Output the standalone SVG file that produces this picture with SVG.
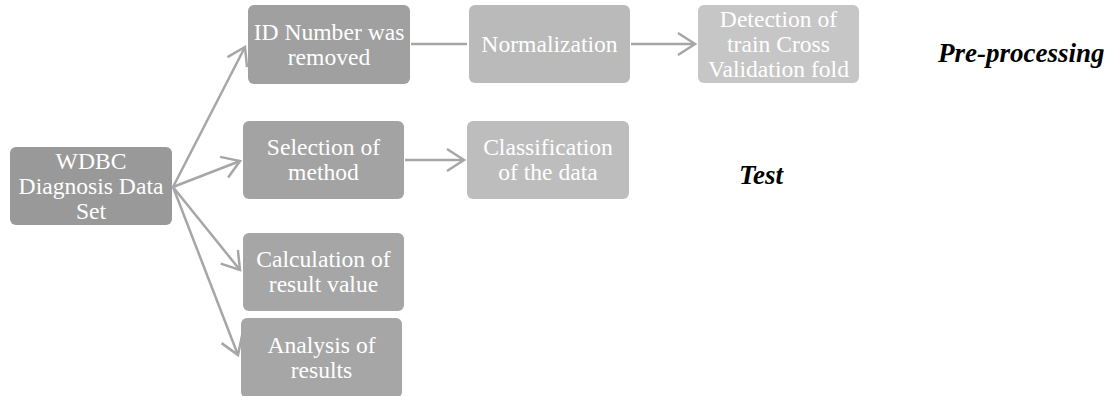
<svg xmlns="http://www.w3.org/2000/svg" width="1112" height="396" viewBox="0 0 1112 396">
<style>
.box{stroke:none}
.t{font-family:"Liberation Serif","Times New Roman",serif;font-size:23.6px;fill:#ffffff;text-anchor:middle}
.lbl{font-family:"Liberation Serif","Times New Roman",serif;font-size:27px;font-weight:bold;font-style:italic;fill:#000000}
.c{fill:none;stroke:#a6a6a6;stroke-width:2.5}
</style>
<defs>
<marker id="arr" markerUnits="userSpaceOnUse" markerWidth="30" markerHeight="30" viewBox="-20 -15 25 30" refX="0" refY="0" orient="auto">
<path d="M-17,-11 L0,0 L-17,11" fill="none" stroke="#a6a6a6" stroke-width="2.5"/>
</marker>
</defs>
<rect width="1112" height="396" fill="#ffffff"/>
<g id="connectors">
<line class="c" x1="173" y1="187" x2="245" y2="47" marker-end="url(#arr)"/>
<line class="c" x1="173" y1="187" x2="240" y2="161" marker-end="url(#arr)"/>
<line class="c" x1="173" y1="187" x2="240" y2="270" marker-end="url(#arr)"/>
<line class="c" x1="173" y1="187" x2="238" y2="355" marker-end="url(#arr)"/>
<line class="c" x1="411" y1="44" x2="467" y2="44"/>
<line class="c" x1="631" y1="44" x2="695" y2="44" marker-end="url(#arr)"/>
<line class="c" x1="405" y1="160" x2="464" y2="160" marker-end="url(#arr)"/>
</g>
<g id="wdbc">
<rect class="box" x="10" y="147" width="162" height="78" rx="6" fill="#999999"/>
<text class="t" x="91" y="169">WDBC</text>
<text class="t" x="91" y="194">Diagnosis Data</text>
<text class="t" x="91" y="219">Set</text>
</g>
<g id="idnumber">
<rect class="box" x="248" y="5" width="162" height="79" rx="6" fill="#a0a0a0"/>
<text class="t" x="329" y="40">ID Number was</text>
<text class="t" x="329" y="65">removed</text>
</g>
<g id="normalization">
<rect class="box" x="469" y="5" width="161" height="78" rx="6" fill="#bababa"/>
<text class="t" x="549.5" y="52">Normalization</text>
</g>
<g id="detection">
<rect class="box" x="698" y="5" width="161" height="78" rx="6" fill="#c6c6c6"/>
<text class="t" x="778.5" y="27">Detection of</text>
<text class="t" x="778.5" y="52">train Cross</text>
<text class="t" x="778.5" y="77">Validation fold</text>
</g>
<g id="selection">
<rect class="box" x="243" y="121" width="161" height="78" rx="6" fill="#a3a3a3"/>
<text class="t" x="323.5" y="155">Selection of</text>
<text class="t" x="323.5" y="180">method</text>
</g>
<g id="classification">
<rect class="box" x="467" y="121" width="162" height="78" rx="6" fill="#bdbdbd"/>
<text class="t" x="548" y="155">Classification</text>
<text class="t" x="548" y="180">of the data</text>
</g>
<g id="calculation">
<rect class="box" x="243" y="233" width="161" height="78" rx="6" fill="#a6a6a6"/>
<text class="t" x="323.5" y="267">Calculation of</text>
<text class="t" x="323.5" y="292">result value</text>
</g>
<g id="analysis">
<rect class="box" x="241" y="318" width="161" height="80" rx="6" fill="#a6a6a6"/>
<text class="t" x="321.5" y="353">Analysis of</text>
<text class="t" x="321.5" y="378">results</text>
</g>
<g id="labels">
<text class="lbl" x="938" y="62">Pre-processing</text>
<text class="lbl" x="739" y="184">Test</text>
</g>
</svg>
